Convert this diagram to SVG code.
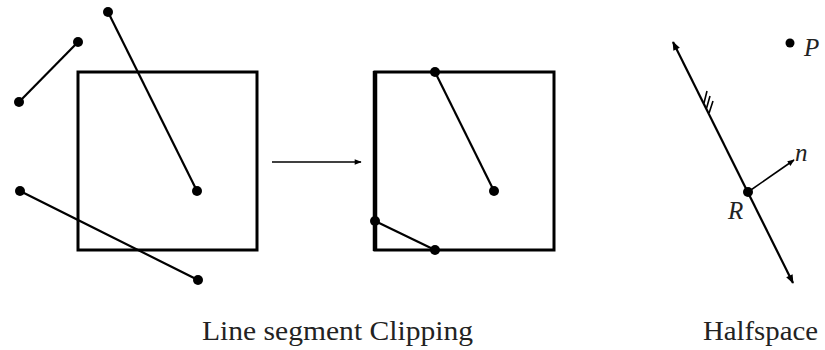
<svg xmlns="http://www.w3.org/2000/svg" width="825" height="350" viewBox="0 0 825 350">
<style>
.box{fill:none;stroke:#000;stroke-width:3}
.seg{stroke:#000;stroke-width:2.2;fill:none}
.thin{stroke:#000;stroke-width:1.6;fill:none}
.dot{fill:#000}
.lbl{font-family:"Liberation Serif","Times New Roman",serif;font-size:28px;fill:#222}
.it{font-family:"Liberation Serif","Times New Roman",serif;font-style:italic;font-size:25px;fill:#222}
</style>
<defs>
<marker id="ah" viewBox="0 0 10 10" refX="9" refY="5" markerWidth="10" markerHeight="7" markerUnits="userSpaceOnUse" orient="auto"><path d="M0,1 L10,5 L0,9 Z" fill="#000"/></marker>
<marker id="ahs" viewBox="0 0 10 10" refX="9" refY="5" markerWidth="13" markerHeight="9" markerUnits="userSpaceOnUse" orient="auto-start-reverse"><path d="M0,1 L10,5 L0,9 Z" fill="#000"/></marker>
</defs>
<g id="before">
<rect class="box" x="78" y="72" width="179" height="178"/>
<line class="seg" x1="108" y1="12" x2="197" y2="191"/>
<circle class="dot" cx="108" cy="12" r="5"/><circle class="dot" cx="197" cy="191" r="5"/>
<line class="seg" x1="78" y1="42" x2="19" y2="102"/>
<circle class="dot" cx="78" cy="42" r="5"/><circle class="dot" cx="19" cy="102" r="5"/>
<line class="seg" x1="20" y1="191" x2="198" y2="280"/>
<circle class="dot" cx="20" cy="191" r="5"/><circle class="dot" cx="198" cy="280" r="5"/>
</g>
<g id="connectors">
<line class="thin" x1="272" y1="162" x2="361" y2="162" marker-end="url(#ah)"/>
</g>
<g id="after">
<rect class="box" x="375" y="72" width="179" height="178"/>
<line stroke="#000" stroke-width="4.5" x1="375" y1="71" x2="375" y2="251"/>
<line class="seg" x1="435" y1="72" x2="494" y2="191"/>
<circle class="dot" cx="435" cy="72" r="5"/><circle class="dot" cx="494" cy="191" r="5"/>
<line class="seg" x1="375" y1="221" x2="435" y2="250"/>
<circle class="dot" cx="375" cy="221" r="5"/><circle class="dot" cx="435" cy="250" r="5"/>
</g>
<g id="halfspace">
<line class="seg" x1="673" y1="42" x2="793" y2="283" marker-start="url(#ahs)" marker-end="url(#ahs)"/>
<path class="thin" d="M704,103 L707,91 M706.6,108 L710,96 M709.1,113 L713,101"/>
<line class="thin" x1="748" y1="192" x2="794" y2="160" marker-end="url(#ah)"/>
<circle class="dot" cx="748" cy="192" r="5"/>
<circle class="dot" cx="790" cy="43" r="4.5"/>
<text class="it" x="804" y="56">P</text>
<text class="it" x="795" y="161">n</text>
<text class="it" x="728" y="219">R</text>
</g>
<g id="labels">
<text class="lbl" x="202" y="340" textLength="271" lengthAdjust="spacingAndGlyphs">Line segment Clipping</text>
<text class="lbl" x="703" y="340" textLength="115" lengthAdjust="spacingAndGlyphs">Halfspace</text>
</g>
</svg>
